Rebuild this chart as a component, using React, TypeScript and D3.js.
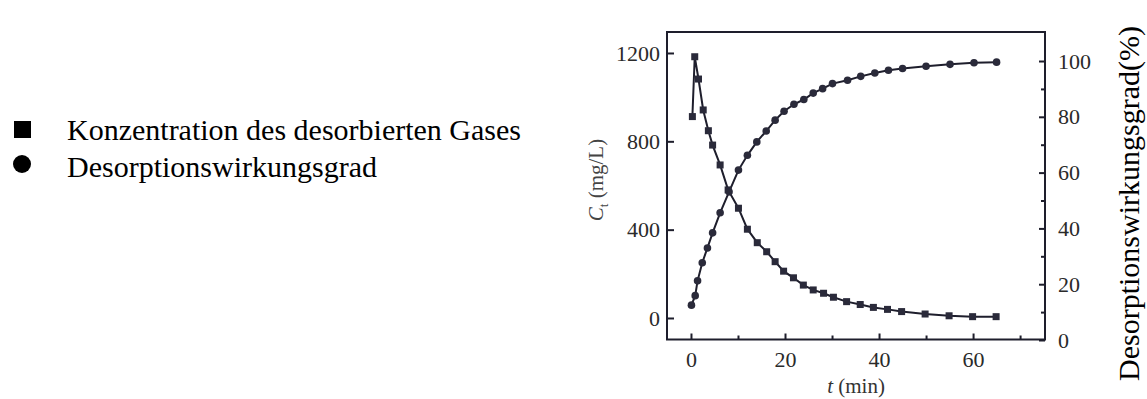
import React, { useEffect, useRef } from 'react';
import * as d3 from 'd3';

// values
const timeConc = [0.3, 0.8, 1.6, 2.6, 3.7, 4.6, 6.2, 7.9, 10.1, 12, 14.1, 16.1, 17.9, 19.7, 21.8, 23.9, 26, 28.2, 30.3, 33.1, 36, 38.8, 41.8, 44.8, 49.8, 54.9, 59.9, 64.9];
const concValues = [912, 1183, 1082, 942, 848, 783, 693, 580, 497, 402, 341, 300, 255, 212, 182, 149, 127, 112, 94, 74, 61, 48, 39, 29, 18, 10, 6, 6];

const timeEff = [0.1, 0.9, 1.4, 2.4, 3.5, 4.6, 6.2, 8.1, 10.1, 12, 14, 16, 17.9, 19.8, 21.9, 24, 26, 28, 30.1, 33.3, 36.1, 39.1, 42, 45, 50, 55.1, 60.2, 65];
const effValues = [12.5, 15.9, 21.2, 27.7, 33, 38.4, 45.6, 53.1, 60.9, 66.2, 71, 74.9, 78.8, 82, 84.5, 86.2, 88.5, 90.1, 91.9, 93.1, 94.5, 95.7, 96.7, 97.3, 98.1, 98.8, 99.4, 99.6];

const xTicks = [0, 20, 40, 60];
const xMinorTicks = [10, 30, 50, 70];
const leftTicks = [0, 400, 800, 1200];
const rightTicks = [0, 20, 40, 60, 80, 100];
const rightMinorTicks = [10, 30, 50, 70, 90];

const legendLabels = ['Konzentration des desorbierten Gases', 'Desorptionswirkungsgrad'];
const rightTitle = 'Desorptionswirkungsgrad(%)';

const FONT = '"Liberation Serif", "Times New Roman", serif';
const INK = '#1e1e2c';

export default function App() {
    const svgRef = useRef<SVGSVGElement | null>(null);

    useEffect(() => {
        document.body.style.margin = '0';
        const width = 1147;
        const height = 399;
        const box = { left: 667, top: 32, right: 1045, bottom: 339.5 };

        const svg = d3.select(svgRef.current);
        svg.selectAll('*').remove();
        svg.attr('width', width).attr('height', height);

        const x = d3.scaleLinear().domain([-5.1, 75.3]).range([box.left, box.right]);
        const yL = d3.scaleLinear().domain([-97.4, 1295]).range([box.bottom, box.top]);
        const yR = d3.scaleLinear().domain([0.18, 110.4]).range([box.bottom, box.top]);

        // legend
        const legend = svg.append('g').attr('font-family', FONT).attr('font-size', 30).attr('fill', '#000');
        legend.append('rect').attr('x', 14).attr('y', 121).attr('width', 17).attr('height', 17).attr('fill', '#000');
        legend.append('circle').attr('cx', 22).attr('cy', 164).attr('r', 9).attr('fill', '#000');
        legendLabels.forEach((lab, i) => {
            legend.append('text').attr('x', 67).attr('y', 140 + i * 37).text(lab);
        });

        // frame
        svg.append('rect')
            .attr('x', box.left).attr('y', box.top)
            .attr('width', box.right - box.left).attr('height', box.bottom - box.top)
            .attr('fill', 'none').attr('stroke', INK).attr('stroke-width', 2);

        // bottom axis
        const bottom = svg.append('g').attr('transform', `translate(0,${box.bottom})`);
        bottom.call(d3.axisBottom(x).tickValues(xTicks).tickSize(-6).tickPadding(12).tickFormat(d3.format('d')) as any);
        const bottomMinor = svg.append('g').attr('transform', `translate(0,${box.bottom})`);
        bottomMinor.call(d3.axisBottom(x).tickValues(xMinorTicks).tickSize(-4).tickFormat(() => '') as any);

        // left axis
        const left = svg.append('g').attr('transform', `translate(${box.left},0)`);
        left.call(d3.axisLeft(yL).tickValues(leftTicks).tickSize(-7).tickPadding(7).tickFormat(d3.format('d')) as any);

        // right axis
        const right = svg.append('g').attr('transform', `translate(${box.right},0)`);
        right.call(d3.axisRight(yR).tickValues(rightTicks).tickSize(-6).tickPadding(13).tickFormat(d3.format('d')) as any);
        const rightMinor = svg.append('g').attr('transform', `translate(${box.right},0)`);
        rightMinor.call(d3.axisRight(yR).tickValues(rightMinorTicks).tickSize(-4).tickFormat(() => '') as any);

        [bottom, bottomMinor, left, right, rightMinor].forEach(g => {
            g.select('.domain').remove();
            g.selectAll('.tick line').attr('stroke', INK).attr('stroke-width', 2);
            g.selectAll('.tick text')
                .attr('font-family', FONT)
                .attr('font-size', 22)
                .attr('fill', '#2a2a2a');
        });

        // axis titles
        const ct = svg.append('text')
            .attr('transform', 'translate(603,180) rotate(-90)')
            .attr('text-anchor', 'middle')
            .attr('font-family', FONT)
            .attr('font-size', 21)
            .attr('fill', '#444');
        ct.append('tspan').attr('font-style', 'italic').text('C');
        ct.append('tspan').attr('font-size', 13).attr('dy', 5).text('t');
        ct.append('tspan').attr('dy', -5).text('  (mg/L)');

        const tt = svg.append('text')
            .attr('x', (box.left + box.right) / 2)
            .attr('y', 393)
            .attr('text-anchor', 'middle')
            .attr('font-family', FONT)
            .attr('font-size', 21)
            .attr('fill', '#333');
        tt.append('tspan').attr('font-style', 'italic').text('t');
        tt.append('tspan').text(' (min)');

        svg.append('text')
            .attr('transform', 'translate(1139,381) rotate(-90)')
            .attr('text-anchor', 'start')
            .attr('font-family', FONT)
            .attr('font-size', 30)
            .attr('fill', '#000')
            .text(rightTitle);

        // series
        const concData = timeConc.map((t, i) => ({ t, v: concValues[i] }));
        const effData = timeEff.map((t, i) => ({ t, v: effValues[i] }));

        const concLine = d3.line<{ t: number; v: number }>().x(d => x(d.t)).y(d => yL(d.v));
        const effLine = d3.line<{ t: number; v: number }>().x(d => x(d.t)).y(d => yR(d.v));

        svg.append('path').datum(concData).attr('d', concLine)
            .attr('fill', 'none').attr('stroke', INK).attr('stroke-width', 2);
        svg.append('path').datum(effData).attr('d', effLine)
            .attr('fill', 'none').attr('stroke', INK).attr('stroke-width', 2);

        const sq = 7;
        svg.append('g').selectAll('rect').data(concData).enter().append('rect')
            .attr('x', d => x(d.t) - sq / 2)
            .attr('y', d => yL(d.v) - sq / 2)
            .attr('width', sq).attr('height', sq)
            .attr('fill', '#2a2a3a');

        svg.append('g').selectAll('circle').data(effData).enter().append('circle')
            .attr('cx', d => x(d.t))
            .attr('cy', d => yR(d.v))
            .attr('r', 3.8)
            .attr('fill', '#2a2a3a');
    }, []);

    return <svg ref={svgRef} style={{ display: 'block' }}></svg>;
}
